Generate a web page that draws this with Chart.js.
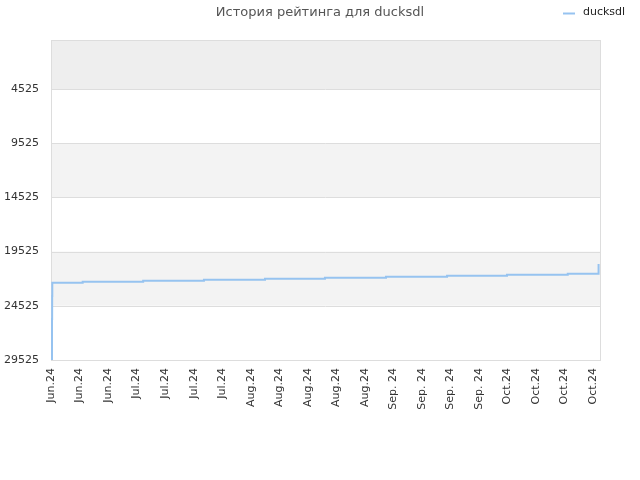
<!DOCTYPE html>
<html>
<head>
<meta charset="utf-8">
<script src="https://cdn.jsdelivr.net/npm/chart.js@4/dist/chart.umd.min.js"></script>
<style>
  html, body { margin: 0; padding: 0; background: #fff; }
  #wrap { width: 640px; height: 480px; }
</style>
</head>
<body>
<div id="wrap"><canvas id="c" width="640" height="480"></canvas></div>
<script>
// --- data ---
const TITLE = 'История рейтинга для ducksdl';
const SERIES_NAME = 'ducksdl';
const X_LABELS = [
  'Jun.24', 'Jun.24', 'Jun.24',
  'Jul.24', 'Jul.24', 'Jul.24', 'Jul.24',
  'Aug.24', 'Aug.24', 'Aug.24', 'Aug.24', 'Aug.24',
  'Sep. 24', 'Sep. 24', 'Sep. 24', 'Sep. 24',
  'Oct.24', 'Oct.24', 'Oct.24', 'Oct.24'
];
const X_MAX = 19.24; // axis runs a little past the last label
const Y_TICKS = [4525, 9525, 14525, 19525, 24525, 29525];
// position along the label axis (label index) and rating place
const POS = [0.03, 0.035, 0.04, 0.045, 1.11, 3.23, 5.36, 7.50, 9.60, 11.74, 13.88, 15.98, 18.11, 19.18, 19.19];
const RATING = [29525, 25740, 23620, 22400, 22310, 22210, 22120, 22030, 21930, 21840, 21750, 21660, 21560, 21560, 20670];

// --- chart ---
const bands = {
  id: 'bands',
  beforeDatasetsDraw(chart) {
    const { ctx, chartArea: a, scales: { y } } = chart;
    const edges = [0].concat(Y_TICKS);
    const fills = ['#eeeeee', '#ffffff', '#f3f3f3', '#ffffff', '#f3f3f3', '#ffffff'];
    ctx.save();
    for (let i = 0; i < edges.length - 1; i++) {
      const top = y.getPixelForValue(edges[i]);
      const bot = y.getPixelForValue(edges[i + 1]);
      ctx.fillStyle = fills[i];
      ctx.fillRect(a.left, top, a.right - a.left, bot - top);
    }
    ctx.strokeStyle = '#dddddd';
    ctx.lineWidth = 1;
    for (const v of Y_TICKS) {
      const p = Math.round(y.getPixelForValue(v)) + 0.5;
      ctx.beginPath(); ctx.moveTo(a.left, p); ctx.lineTo(a.right, p); ctx.stroke();
    }
    ctx.strokeRect(Math.round(a.left) + 0.5, Math.round(a.top) + 0.5, Math.round(a.right - a.left), Math.round(a.bottom - a.top));
    ctx.restore();
  },
  afterDraw(chart) {
    const { ctx } = chart;
    const ds = chart.data.datasets[0];
    ctx.save();
    ctx.font = '13px "DejaVu Sans"';
    ctx.fillStyle = '#555555';
    ctx.textAlign = 'center';
    ctx.textBaseline = 'middle';
    ctx.fillText(TITLE, 320, 13);
    ctx.strokeStyle = ds.borderColor;
    ctx.lineWidth = 2;
    ctx.beginPath(); ctx.moveTo(563, 13.5); ctx.lineTo(575, 13.5); ctx.stroke();
    ctx.font = '11px "DejaVu Sans"';
    ctx.fillStyle = '#222222';
    ctx.textAlign = 'left';
    ctx.fillText(ds.label, 583, 12);
    ctx.restore();
  }
};

new Chart(document.getElementById('c'), {
  type: 'line',
  data: {
    datasets: [{
      label: SERIES_NAME,
      data: POS.map((x, i) => ({ x, y: RATING[i] })),
      borderColor: '#96c3f0',
      borderWidth: 2,
      pointRadius: 0,
      stepped: true,
      fill: false
    }]
  },
  options: {
    responsive: false,
    animation: false,
    layout: { padding: { top: 40, right: 40, left: 0, bottom: 0 } },
    plugins: { legend: { display: false }, title: { display: false }, tooltip: { enabled: false } },
    scales: {
      x: {
        type: 'linear', min: 0, max: X_MAX,
        afterBuildTicks: (s) => { s.ticks = X_LABELS.map((_, i) => ({ value: i })); },
        afterFit: (s) => { s.height = 120; },
        grid: { display: false, drawTicks: false },
        border: { display: false },
        ticks: {
          autoSkip: false, maxRotation: 90, minRotation: 90, padding: 8,
          color: '#333333', font: { family: 'DejaVu Sans', size: 11 },
          callback: (v) => X_LABELS[v]
        }
      },
      y: {
        type: 'linear', reverse: true, min: 0, max: 29525,
        afterBuildTicks: (s) => { s.ticks = Y_TICKS.map((v) => ({ value: v })); },
        afterFit: (s) => { s.width = 51; },
        grid: { display: false, drawTicks: false },
        border: { display: false },
        ticks: {
          padding: 12, color: '#333333', font: { family: 'DejaVu Sans', size: 11 },
          callback: (v) => String(v)
        }
      }
    }
  },
  plugins: [bands]
});
</script>
</body>
</html>
